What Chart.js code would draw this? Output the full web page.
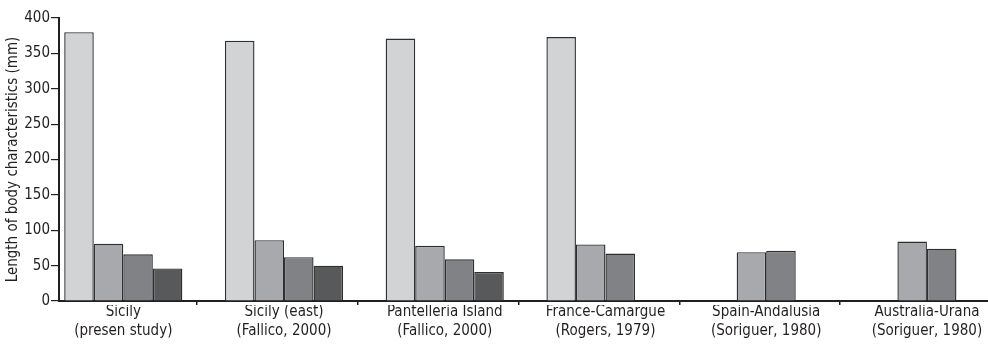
<!DOCTYPE html>
<html>
<head>
<meta charset="utf-8">
<script src="https://cdn.jsdelivr.net/npm/chart.js@4/dist/chart.umd.min.js"></script>
<style>
  html, body { margin: 0; padding: 0; background: #fff; }
</style>
</head>
<body>
<canvas id="chart" width="988" height="348"></canvas>
<script>
// Body measurements (mm) by population / source
const sites = [
  ["Sicily", "(presen study)"],
  ["Sicily (east)", "(Fallico, 2000)"],
  ["Pantelleria Island", "(Fallico, 2000)"],
  ["France-Camargue", "(Rogers, 1979)"],
  ["Spain-Andalusia", "(Soriguer, 1980)"],
  ["Australia-Urana", "(Soriguer, 1980)"]
];
const seriesA = [380, 368, 371, 373, null, null];
const seriesB = [81, 86, 78, 80, 69, 84];
const seriesC = [66, 62, 59, 67, 71, 74];
const seriesD = [46, 50, 41, null, null, null];
const yTicks = [0, 50, 100, 150, 200, 250, 300, 350, 400];

const INK = '#231f20';
const FONT = '"DejaVu Sans Condensed", "Liberation Sans Narrow", sans-serif';

const toPoints = arr => arr.map((v, i) => ({ x: i, y: v }));

const barStyle = {
  borderColor: '#2e2e2e',
  borderWidth: 1.4,
  borderSkipped: 'start',
  categoryPercentage: 0.735,
  barPercentage: 1.0
};

new Chart(document.getElementById('chart'), {
  type: 'bar',
  data: {
    datasets: [
      Object.assign({ label: 'A', data: toPoints(seriesA), backgroundColor: '#d1d3d4' }, barStyle),
      Object.assign({ label: 'B', data: toPoints(seriesB), backgroundColor: '#a7a9ac' }, barStyle),
      Object.assign({ label: 'C', data: toPoints(seriesC), backgroundColor: '#808285' }, barStyle),
      Object.assign({ label: 'D', data: toPoints(seriesD), backgroundColor: '#58595b' }, barStyle)
    ]
  },
  options: {
    responsive: false,
    devicePixelRatio: 1,
    animation: false,
    layout: { padding: { top: 18, right: 0, bottom: 0, left: 0 } },
    plugins: { legend: { display: false }, tooltip: { enabled: false } },
    scales: {
      x: {
        type: 'linear',
        position: 'bottom',
        offset: false,
        min: -0.4,
        max: 5.38,
        // short marks between neighbouring groups
        afterBuildTicks: s => { s.ticks = sites.slice(1).map((_, i) => ({ value: i + 0.46 })); },
        afterFit: s => { s.height = 4; },
        ticks: { display: false },
        grid: { offset: false, drawOnChartArea: false, drawTicks: true, tickLength: 4, color: INK, lineWidth: 1.5 },
        border: { display: true, color: INK, width: 2 }
      },
      xl: {
        type: 'linear',
        position: 'bottom',
        offset: false,
        min: -0.4,
        max: 5.38,
        afterBuildTicks: s => { s.ticks = sites.map((_, i) => ({ value: i })); },
        afterFit: s => { s.height = 43; },
        ticks: {
          callback: (v, i) => sites[i],
          autoSkip: false,
          maxRotation: 0,
          padding: -3,
          color: INK,
          font: { family: FONT, size: 15, lineHeight: 1.3 }
        },
        grid: { offset: false, display: false, drawTicks: false },
        border: { display: false }
      },
      y: {
        min: 0,
        max: 400,
        afterBuildTicks: s => { s.ticks = yTicks.map(v => ({ value: v })); },
        afterFit: s => { s.width = 59; },
        ticks: {
          padding: 1,
          color: INK,
          font: { family: FONT, size: 15 }
        },
        grid: { drawOnChartArea: false, drawTicks: true, tickLength: 8, color: INK, lineWidth: 1.2 },
        border: { display: true, color: INK, width: 2 },
        title: {
          display: true,
          text: 'Length of body characteristics (mm)',
          color: INK,
          font: { family: FONT, size: 15 },
          padding: { top: 4, bottom: 0 }
        }
      }
    }
  }
});
</script>
</body>
</html>
